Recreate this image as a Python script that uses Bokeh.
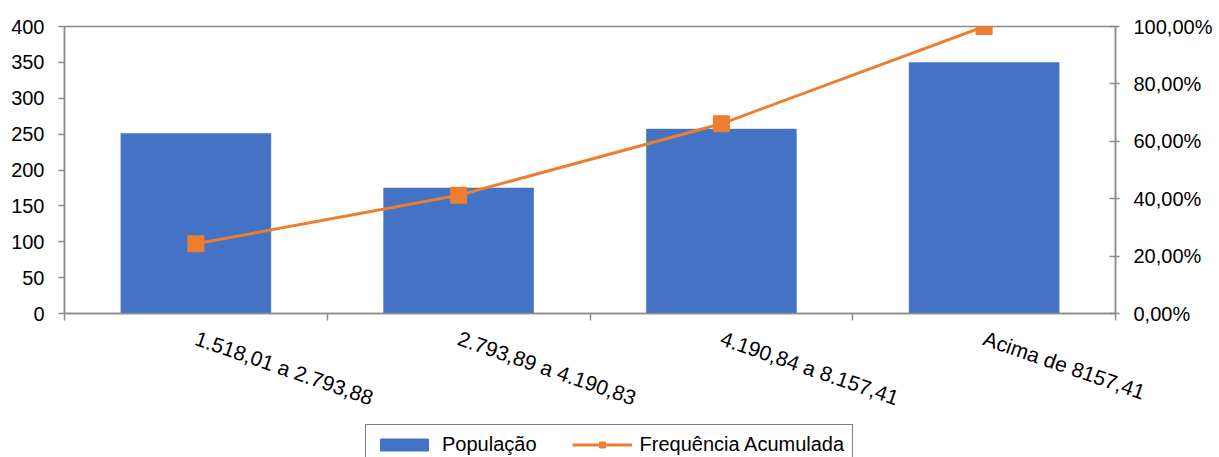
from bokeh.plotting import figure
from bokeh.layouts import column
from bokeh.models import (Range1d, LinearAxis, FixedTicker, CustomJSTickFormatter,
                          Legend, LegendItem)
from bokeh.embed import file_html
from bokeh.resources import INLINE

# ---- data ----
categories = ["1.518,01 a 2.793,88", "2.793,89 a 4.190,83",
              "4.190,84 a 8.157,41", "Acima de 8157,41"]
populacao = [251, 175, 257, 350]
freq_acumulada = [24.3, 41.2, 66.1, 100.0]
left_ticks = [0, 50, 100, 150, 200, 250, 300, 350, 400]
right_ticks = [0, 20, 40, 60, 80, 100]
legend_labels = ["População", "Frequência Acumulada"]

FONT = "Liberation Sans"
AXIS_GRAY = "#8c8c8c"
BLUE = "#4472C4"
ORANGE = "#ED7D31"

centers = [i + 0.5 for i in range(len(categories))]
bounds = [float(i) for i in range(len(categories) + 1)]

p = figure(width=1216, height=423, output_backend="svg", toolbar_location=None,
           x_range=Range1d(0, len(categories)), y_range=Range1d(0, 400),
           min_border_left=64, min_border_right=101, min_border_top=26,
           min_border_bottom=110, x_axis_location="below")
p.extra_y_ranges = {"pct": Range1d(0, 100)}
p.xgrid.visible = False
p.ygrid.visible = False
p.outline_line_color = AXIS_GRAY
p.outline_line_width = 1.5
p.background_fill_color = "white"
p.border_fill_color = "white"

# bars
bars = p.vbar(x=centers, top=populacao, width=0.571, fill_color=BLUE,
              line_color=BLUE, line_width=0.5)
# cumulative line
ln = p.line(x=centers, y=freq_acumulada, y_range_name="pct", line_color=ORANGE,
            line_width=3)
sc = p.scatter(x=centers, y=freq_acumulada, y_range_name="pct", marker="square",
               size=16, fill_color=ORANGE, line_color=ORANGE)

# x axis
xa = p.xaxis[0]
xa.ticker = FixedTicker(ticks=centers, minor_ticks=bounds)
xa.formatter = CustomJSTickFormatter(args=dict(cats=categories),
                                     code="return cats[Math.floor(tick)];")
xa.major_tick_line_color = None
xa.major_tick_out = 0
xa.major_tick_in = 0
xa.minor_tick_line_color = AXIS_GRAY
xa.minor_tick_line_width = 1.5
xa.minor_tick_out = 7
xa.minor_tick_in = 0
xa.axis_line_color = AXIS_GRAY
xa.axis_line_width = 1.5
xa.major_label_orientation = -0.332
xa.major_label_standoff = 17
xa.major_label_text_font = FONT
xa.major_label_text_font_size = "21px"
xa.major_label_text_color = "black"

# left axis
ya = p.yaxis[0]
ya.ticker = FixedTicker(ticks=left_ticks)
ya.minor_tick_line_color = None
ya.major_tick_out = 6
ya.major_tick_in = 0
ya.major_tick_line_color = AXIS_GRAY
ya.major_tick_line_width = 1.5
ya.axis_line_color = AXIS_GRAY
ya.axis_line_width = 1.5
ya.major_label_standoff = 14
ya.major_label_text_font = FONT
ya.major_label_text_font_size = "20px"
ya.major_label_text_color = "black"

# right axis
ra = LinearAxis(y_range_name="pct", ticker=FixedTicker(ticks=right_ticks),
                formatter=CustomJSTickFormatter(
                    code="return tick.toFixed(2).replace('.', ',') + '%';"))
ra.minor_tick_line_color = None
ra.major_tick_out = 4
ra.major_tick_in = 6
ra.major_tick_line_color = AXIS_GRAY
ra.major_tick_line_width = 1.5
ra.axis_line_color = AXIS_GRAY
ra.axis_line_width = 1.5
ra.major_label_standoff = 14
ra.major_label_text_font = FONT
ra.major_label_text_font_size = "20px"
ra.major_label_text_color = "black"
p.add_layout(ra, "right")

# legend strip (separate small figure below the chart); its glyph renderers
# hold one off-range point each so that the legend swatches are drawn
lg = figure(width=1216, height=34, output_backend="svg", toolbar_location=None,
            x_range=Range1d(0, 1), y_range=Range1d(0, 1),
            x_axis_location=None, y_axis_location=None, min_border=0)
lg.xgrid.visible = False
lg.ygrid.visible = False
lg.outline_line_color = None
lg.border_fill_color = "white"
lg_bar = lg.vbar(x=[-10], top=[-10], width=0.5, fill_color=BLUE, line_color=BLUE)
lg_line = lg.line(x=[-10, -9], y=[-10, -10], line_color=ORANGE, line_width=3)
lg_sc = lg.scatter(x=[-10], y=[-10], marker="square", size=16, fill_color=ORANGE,
                   line_color=ORANGE)
legend = Legend(items=[LegendItem(label=legend_labels[0], renderers=[lg_bar]),
                       LegendItem(label=legend_labels[1], renderers=[lg_line, lg_sc])],
                orientation="horizontal", location=(301, -8), margin=0,
                padding=8, spacing=35, label_standoff=8,
                glyph_width=60, glyph_height=15,
                label_text_font=FONT, label_text_font_size="20px",
                label_text_color="black",
                border_line_color="black", border_line_width=1.2,
                background_fill_color="white", background_fill_alpha=1.0)
lg.add_layout(legend, "center")

layout = column(p, lg, spacing=0)
open("out.html", "w").write(file_html(layout, INLINE))
